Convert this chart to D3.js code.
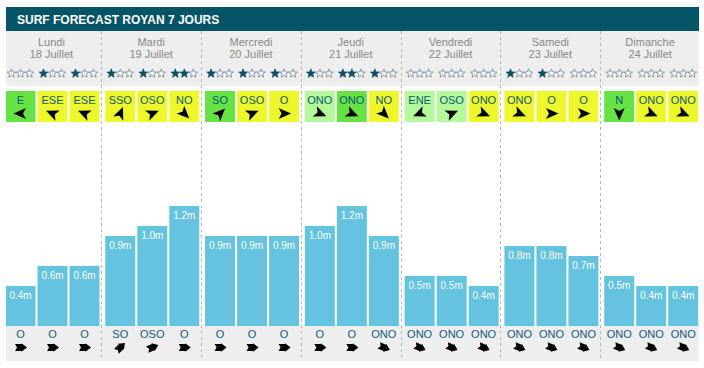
<!DOCTYPE html>
<html><head><meta charset="utf-8">
<script src="https://cdn.jsdelivr.net/npm/d3@7"></script>
<style>
html,body{margin:0;padding:0;background:#fff;}
svg{display:block;font-family:"Liberation Sans",Arial,sans-serif;}
</style></head>
<body><svg id="c" width="704" height="368"></svg>
<script>
const title = "SURF FORECAST ROYAN 7 JOURS";
const days = ["Lundi","Mardi","Mercredi","Jeudi","Vendredi","Samedi","Dimanche"];
const dates = ["18 Juillet","19 Juillet","20 Juillet","21 Juillet","22 Juillet","23 Juillet","24 Juillet"];
const waveHeights = [0.4,0.6,0.6, 0.9,1.0,1.2, 0.9,0.9,0.9, 1.0,1.2,0.9, 0.5,0.5,0.4, 0.8,0.8,0.7, 0.5,0.4,0.4];
const swellDirs = ["O","O","O", "SO","OSO","O", "O","O","O", "O","O","ONO", "ONO","ONO","ONO", "ONO","ONO","ONO", "ONO","ONO","ONO"];
const windDirs = ["E","ESE","ESE", "SSO","OSO","NO", "SO","OSO","O", "ONO","ONO","NO", "ENE","OSO","ONO", "ONO","O","O", "N","ONO","ONO"];
const windQuality = ["good","mid","mid", "mid","mid","mid", "good","mid","mid", "fair","good","mid", "fair","fair","mid", "mid","mid","mid", "good","mid","mid"];
const starRatings = [0,1,1, 1,1,2, 1,1,1, 1,2,1, 0,0,0, 1,1,0, 0,0,0];
const compass = ["N","NNE","NE","ENE","E","ESE","SE","SSE","S","SSO","SO","OSO","O","ONO","NO","NNO"];

const windColor = {good:"#66e244", mid:"#eef72c", fair:"#b4f99a"};
const svg = d3.select("#c");
const X0 = 6, X1 = 699;

svg.append("defs").append("clipPath").attr("id","clip")
  .append("rect").attr("x",X0).attr("y",0).attr("width",X1-X0).attr("height",368);

const slots = d3.range(21).map(i => ({
  i, day: Math.floor(i/3), k: i%3,
  h: waveHeights[i], swell: swellDirs[i], wind: windDirs[i],
  q: windQuality[i], stars: starRatings[i]
}));

const xDay = d3.scaleBand().domain(d3.range(7)).range([1.5, 700]);
const xSlot = d3.scaleBand().domain([0,1,2]).range([3, 99]).paddingInner(0.0625).paddingOuter(0.03125);
const y = d3.scaleLinear().domain([0, 1.2]).range([326, 206]);
const angle = d => (compass.indexOf(d) * 22.5 + 180) % 360;
const sx = d => xDay(d.day) + xSlot(d.k);
const cx = d => sx(d) + xSlot.bandwidth()/2;

const g = svg.append("g").attr("clip-path","url(#clip)");

// header
g.append("rect").attr("x",X0).attr("y",7).attr("width",X1-X0).attr("height",24).attr("fill","#045468");
g.append("text").attr("x",17).attr("y",23.5).attr("fill","#fff").attr("font-weight","bold")
  .attr("font-size",12).text(title);

// gray day header
g.append("rect").attr("x",X0).attr("y",31).attr("width",X1-X0).attr("height",55).attr("fill","#eeeeee");
// bottom gray
g.append("rect").attr("x",X0).attr("y",326).attr("width",X1-X0).attr("height",35).attr("fill","#eeeeee");

// day labels
const dayG = g.selectAll("g.day").data(d3.range(7)).join("g").attr("class","day");
dayG.append("text").attr("x", d => xDay(d)+xDay.bandwidth()/2).attr("y",46)
  .attr("text-anchor","middle").attr("font-size",11).attr("fill","#888").text(d => days[d]);
dayG.append("text").attr("x", d => xDay(d)+xDay.bandwidth()/2).attr("y",58)
  .attr("text-anchor","middle").attr("font-size",11).attr("fill","#888").text(d => dates[d]);

// stars
const starPath = (() => {
  const pts = [];
  for (let i=0;i<10;i++){
    const r = i%2===0 ? 4.6 : 1.9;
    const a = -Math.PI/2 + i*Math.PI/5;
    pts.push([r*Math.cos(a), r*Math.sin(a)]);
  }
  return "M" + pts.map(p=>p[0].toFixed(2)+","+p[1].toFixed(2)).join("L") + "Z";
})();
slots.forEach(s => {
  [0,1,2].forEach(j => {
    const filled = j < s.stars;
    g.append("path").attr("d", starPath)
      .attr("transform", `translate(${cx(s) + (j-1)*9},${73.5})`)
      .attr("fill", filled ? "#0b4f66" : "#fff")
      .attr("stroke", filled ? "#0b4f66" : "#6f8591")
      .attr("stroke-width", 0.8);
  });
});

// wind boxes
const dart = "M0,-7 L5.5,5.5 L0,2.5 L-5.5,5.5 Z";
const windG = g.selectAll("g.wind").data(slots).join("g").attr("class","wind");
windG.append("rect").attr("x", sx).attr("y",91).attr("width", xSlot.bandwidth()).attr("height",31)
  .attr("fill", d => windColor[d.q]);
windG.append("text").attr("x", cx).attr("y",103.5).attr("text-anchor","middle")
  .attr("font-size",11).attr("fill","#0d5a72").text(d => d.wind);
windG.append("path").attr("d", dart)
  .attr("transform", d => `translate(${cx(d)},${113.5}) rotate(${angle(d.wind)})`)
  .attr("fill","#000");

// bars
const barG = g.selectAll("g.bar").data(slots).join("g").attr("class","bar");
barG.append("rect").attr("x", sx).attr("y", d => y(d.h)).attr("width", xSlot.bandwidth())
  .attr("height", d => y(0) - y(d.h)).attr("fill","#64c3de");
barG.append("text").attr("x", cx).attr("y", d => y(d.h) + 13).attr("text-anchor","middle")
  .attr("font-size",10).attr("fill","#fff").text(d => d3.format(".1f")(d.h) + "m");

// swell directions
const blockArrow = "M0,-6.5 L4.2,-1 L3.4,-1 L3.4,5.5 L0,3.5 L-3.4,5.5 L-3.4,-1 L-4.2,-1 Z";
const swG = g.selectAll("g.swell").data(slots).join("g").attr("class","swell");
swG.append("text").attr("x", cx).attr("y",338).attr("text-anchor","middle")
  .attr("font-size",11).attr("fill","#105a78").text(d => d.swell);
swG.append("path").attr("d", blockArrow)
  .attr("transform", d => `translate(${cx(d)},${347.5}) rotate(${angle(d.swell)})`)
  .attr("fill","#000");

// dividers
g.selectAll("line.div").data(d3.range(1,7)).join("line").attr("class","div")
  .attr("x1", d => Math.round(xDay(d))+0.5).attr("x2", d => Math.round(xDay(d))+0.5)
  .attr("y1",31).attr("y2",361).attr("stroke","#b5b5b5").attr("stroke-dasharray","3,3");
</script></body></html>
